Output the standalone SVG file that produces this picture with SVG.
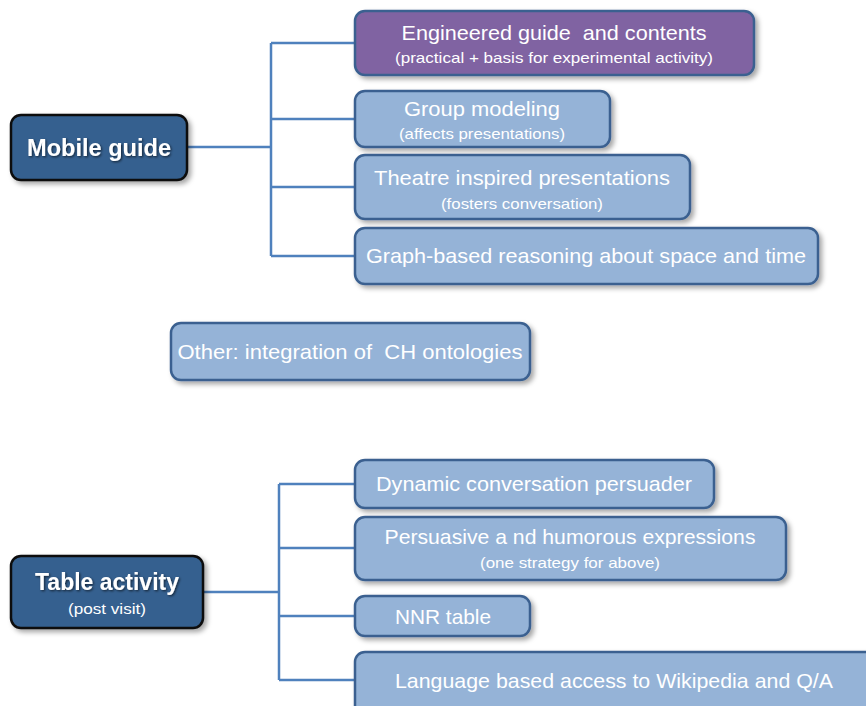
<svg xmlns="http://www.w3.org/2000/svg" width="866" height="706" viewBox="0 0 866 706">
<defs>
<filter id="sh" x="-10%" y="-20%" width="130%" height="160%">
<feDropShadow dx="3" dy="3" stdDeviation="2.5" flood-color="#000" flood-opacity="0.35"/>
</filter>
<filter id="tsh" x="-10%" y="-20%" width="130%" height="160%">
<feDropShadow dx="1.2" dy="1.2" stdDeviation="0.8" flood-color="#000" flood-opacity="0.6"/>
</filter>
</defs>
<style>
.box{fill:#95B3D7;stroke:#3B6190;stroke-width:2.5}
.purple{fill:#8064A2;stroke:#3B6190;stroke-width:2.5}
.root{fill:#36608F;stroke:#0d0d0d;stroke-width:2.5}
.t{font-family:"Liberation Sans",Arial,sans-serif;fill:#fff;text-anchor:middle;white-space:pre}
.m{font-size:21px}
.s{font-size:15px}
.b{font-size:23px;font-weight:bold}
.conn{fill:none;stroke:#4F81BD;stroke-width:2.5}
</style>
<rect width="866" height="706" fill="#fff"/>
<g id="connectors">
<path class="conn" d="M188 147H271M271 43V256M271 43H355M271 119H355M271 187H355M271 256H355"/>
<path class="conn" d="M203 592H279M279 484V680M279 484H355M279 548H355M279 616H355M279 680H355"/>
</g>
<g id="mobile-guide">
<rect class="root" x="11" y="115" width="176" height="65" rx="10" filter="url(#sh)"/>
<text class="t b" x="99" y="156" textLength="144" lengthAdjust="spacingAndGlyphs" filter="url(#tsh)">Mobile guide</text>
</g>
<g id="engineered">
<rect class="purple" x="355" y="11" width="399" height="64" rx="10" filter="url(#sh)"/>
<text class="t m" x="554" y="40" textLength="305" lengthAdjust="spacingAndGlyphs" xml:space="preserve">Engineered guide  and contents</text>
<text class="t s" x="554" y="63" textLength="318" lengthAdjust="spacingAndGlyphs">(practical + basis for experimental activity)</text>
</g>
<g id="group-modeling">
<rect class="box" x="355" y="91" width="255" height="56" rx="10" filter="url(#sh)"/>
<text class="t m" x="482" y="116" textLength="156" lengthAdjust="spacingAndGlyphs">Group modeling</text>
<text class="t s" x="482" y="139" textLength="166" lengthAdjust="spacingAndGlyphs">(affects presentations)</text>
</g>
<g id="theatre">
<rect class="box" x="355" y="155" width="335" height="64" rx="10" filter="url(#sh)"/>
<text class="t m" x="522" y="185" textLength="296" lengthAdjust="spacingAndGlyphs">Theatre inspired presentations</text>
<text class="t s" x="522" y="209" textLength="162" lengthAdjust="spacingAndGlyphs">(fosters conversation)</text>
</g>
<g id="graph-based">
<rect class="box" x="355" y="228" width="463" height="56" rx="10" filter="url(#sh)"/>
<text class="t m" x="586" y="263" textLength="440" lengthAdjust="spacingAndGlyphs">Graph-based reasoning about space and time</text>
</g>
<g id="other">
<rect class="box" x="171" y="323" width="359" height="57" rx="10" filter="url(#sh)"/>
<text class="t m" x="350" y="359" textLength="345" lengthAdjust="spacingAndGlyphs" xml:space="preserve">Other: integration of  CH ontologies</text>
</g>
<g id="table-activity">
<rect class="root" x="11" y="556" width="192" height="72" rx="10" filter="url(#sh)"/>
<text class="t b" x="107" y="590" textLength="144" lengthAdjust="spacingAndGlyphs" filter="url(#tsh)">Table activity</text>
<text class="t s" x="107" y="614" textLength="78" lengthAdjust="spacingAndGlyphs">(post visit)</text>
</g>
<g id="dynamic">
<rect class="box" x="355" y="460" width="359" height="48" rx="10" filter="url(#sh)"/>
<text class="t m" x="534" y="491" textLength="316" lengthAdjust="spacingAndGlyphs">Dynamic conversation persuader</text>
</g>
<g id="persuasive">
<rect class="box" x="355" y="517" width="431" height="63" rx="10" filter="url(#sh)"/>
<text class="t m" x="570" y="544" textLength="371" lengthAdjust="spacingAndGlyphs">Persuasive a nd humorous expressions</text>
<text class="t s" x="570" y="568" textLength="180" lengthAdjust="spacingAndGlyphs">(one strategy for above)</text>
</g>
<g id="nnr">
<rect class="box" x="355" y="596" width="175" height="40" rx="10" filter="url(#sh)"/>
<text class="t m" x="443" y="624" textLength="96" lengthAdjust="spacingAndGlyphs">NNR table</text>
</g>
<g id="language">
<rect class="box" x="355" y="652" width="525" height="70" rx="10" filter="url(#sh)"/>
<text class="t m" x="614" y="688" textLength="438" lengthAdjust="spacingAndGlyphs">Language based access to Wikipedia and Q/A</text>
</g>
</svg>
